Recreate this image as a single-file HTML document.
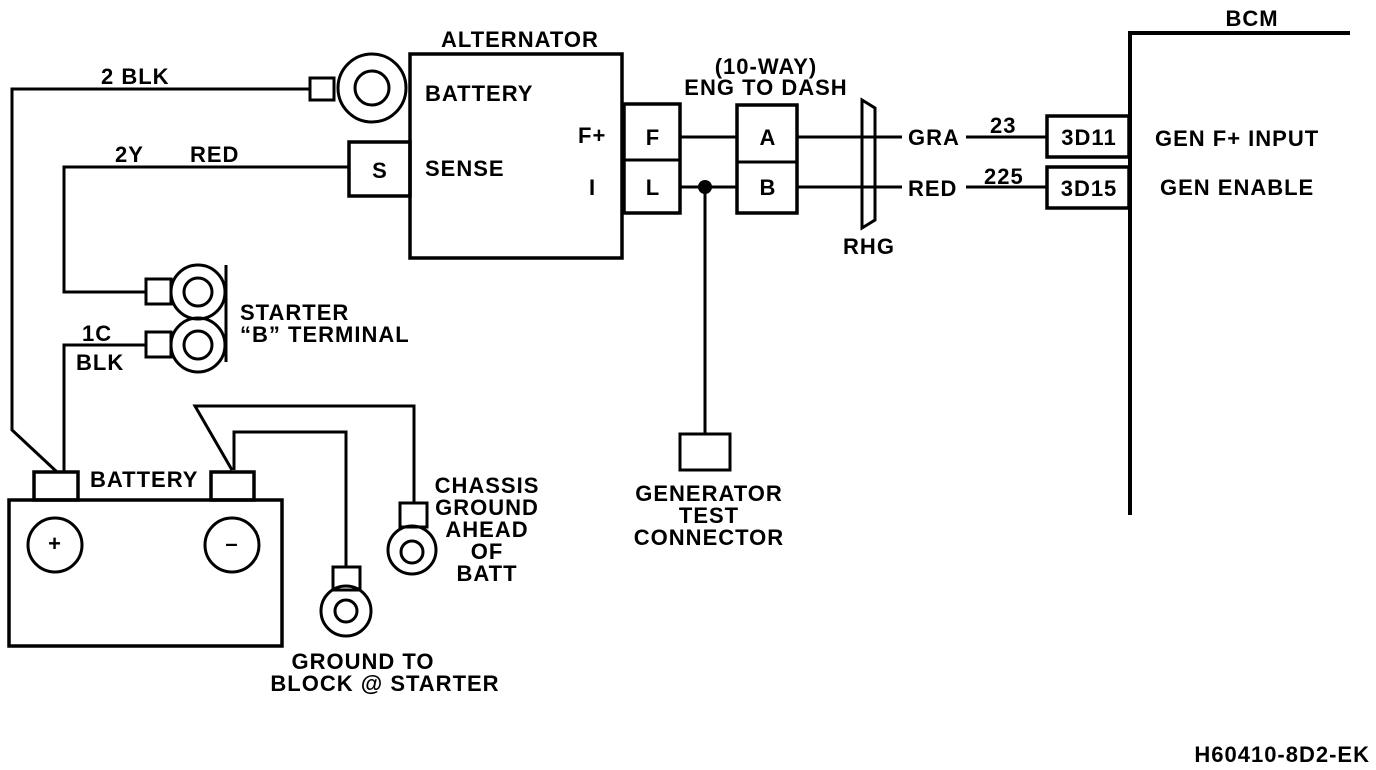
<!DOCTYPE html>
<html><head><meta charset="utf-8"><style>
html,body{margin:0;padding:0;background:#fff;}
svg{display:block}
text{font-family:"Liberation Sans",Arial,sans-serif;font-weight:bold;font-size:22px;letter-spacing:1px;fill:#000}
</style></head><body>
<svg width="1376" height="770" viewBox="0 0 1376 770" xmlns="http://www.w3.org/2000/svg">
<g fill="none" stroke="#000" stroke-width="3">
<polyline points="310,89 12,89 12,430 57,472"/>
<rect x="310" y="78" width="24" height="22"/>
<circle cx="372" cy="88" r="34"/>
<circle cx="372" cy="88" r="17"/>
<rect x="410" y="54" width="212" height="204" stroke-width="3.5"/>
<rect x="349" y="142" width="61" height="54" stroke-width="3.5"/>
<polyline points="349,167 64,167 64,292 146,292"/>
<rect x="146" y="279" width="25" height="25"/>
<circle cx="198" cy="292" r="27"/>
<circle cx="198" cy="292" r="14"/>
<polyline points="146,345 64,345 64,472"/>
<rect x="146" y="332" width="25" height="25"/>
<circle cx="198" cy="345" r="27"/>
<circle cx="198" cy="345" r="14"/>
<line x1="226" y1="265" x2="226" y2="362"/>
<rect x="9" y="500" width="273" height="146" stroke-width="3.5"/>
<rect x="34" y="472" width="44" height="28" stroke-width="3.5"/>
<rect x="211" y="472" width="43" height="28" stroke-width="3.5"/>
<circle cx="55" cy="545" r="27"/>
<circle cx="232" cy="545" r="27"/>
<polyline points="232,470 195,406 414,406 414,503"/>
<polyline points="234,470 234,432 346,432 346,567"/>
<rect x="400" y="503" width="27" height="24"/>
<circle cx="412" cy="550" r="24"/>
<circle cx="412" cy="552" r="11"/>
<rect x="333" y="567" width="27" height="23"/>
<circle cx="346" cy="611" r="25"/>
<circle cx="346" cy="611" r="11"/>
<rect x="624" y="104" width="56" height="109" stroke-width="3.5"/>
<line x1="624" y1="160" x2="680" y2="160"/>
<rect x="737" y="105" width="60" height="108" stroke-width="3.5"/>
<line x1="737" y1="162" x2="797" y2="162"/>
<line x1="680" y1="137" x2="737" y2="137"/>
<line x1="680" y1="187" x2="737" y2="187"/>
<line x1="797" y1="137" x2="902" y2="137"/>
<line x1="797" y1="187" x2="902" y2="187"/>
<line x1="705" y1="187" x2="705" y2="434"/>
<rect x="680" y="434" width="50" height="36"/>
<polygon points="862,100 875,108 875,220 862,228"/>
<line x1="966" y1="137" x2="1047" y2="137"/>
<line x1="966" y1="187" x2="1047" y2="187"/>
<rect x="1047" y="116" width="82" height="41" stroke-width="3.5"/>
<rect x="1047" y="167" width="82" height="41" stroke-width="3.5"/>
<polyline points="1350,33 1130,33 1130,515" stroke-width="4"/>
</g>
<circle cx="705" cy="187" r="7" fill="#000"/>
<text x="101" y="84">2 BLK</text>
<text x="115" y="162">2Y</text>
<text x="190" y="162">RED</text>
<text x="441" y="47">ALTERNATOR</text>
<text x="425" y="101">BATTERY</text>
<text x="425" y="176">SENSE</text>
<text x="578" y="143">F+</text>
<text x="589" y="195">I</text>
<text x="380" y="178" text-anchor="middle" font-size="23">S</text>
<text x="653" y="145" text-anchor="middle" font-size="23">F</text>
<text x="653" y="195" text-anchor="middle" font-size="23">L</text>
<text x="768" y="145" text-anchor="middle" font-size="23">A</text>
<text x="768" y="195" text-anchor="middle" font-size="23">B</text>
<text x="766" y="74" text-anchor="middle">(10-WAY)</text>
<text x="766" y="95" text-anchor="middle">ENG TO DASH</text>
<text x="908" y="145">GRA</text>
<text x="908" y="196">RED</text>
<text x="990" y="133">23</text>
<text x="984" y="184">225</text>
<text x="869" y="254" text-anchor="middle">RHG</text>
<text x="1089" y="145" text-anchor="middle" font-size="21">3D11</text>
<text x="1089" y="196" text-anchor="middle" font-size="21">3D15</text>
<text x="1155" y="146">GEN F+ INPUT</text>
<text x="1160" y="195">GEN ENABLE</text>
<text x="1252" y="26" text-anchor="middle">BCM</text>
<text x="240" y="320">STARTER</text>
<text x="240" y="342">“B” TERMINAL</text>
<text x="82" y="341">1C</text>
<text x="76" y="370">BLK</text>
<text x="90" y="487">BATTERY</text>
<text x="55" y="551" text-anchor="middle" font-size="16">+</text>
<text x="232" y="551" text-anchor="middle" font-size="16">–</text>
<text x="487" y="493" text-anchor="middle">CHASSIS</text>
<text x="487" y="515" text-anchor="middle">GROUND</text>
<text x="487" y="537" text-anchor="middle">AHEAD</text>
<text x="487" y="559" text-anchor="middle">OF</text>
<text x="487" y="581" text-anchor="middle">BATT</text>
<text x="363" y="669" text-anchor="middle">GROUND TO</text>
<text x="385" y="691" text-anchor="middle">BLOCK @ STARTER</text>
<text x="709" y="501" text-anchor="middle">GENERATOR</text>
<text x="709" y="523" text-anchor="middle">TEST</text>
<text x="709" y="545" text-anchor="middle">CONNECTOR</text>
<text x="1370" y="762" text-anchor="end" font-weight="normal" font-size="21" letter-spacing="0">H60410-8D2-EK</text>
</svg>
</body></html>
